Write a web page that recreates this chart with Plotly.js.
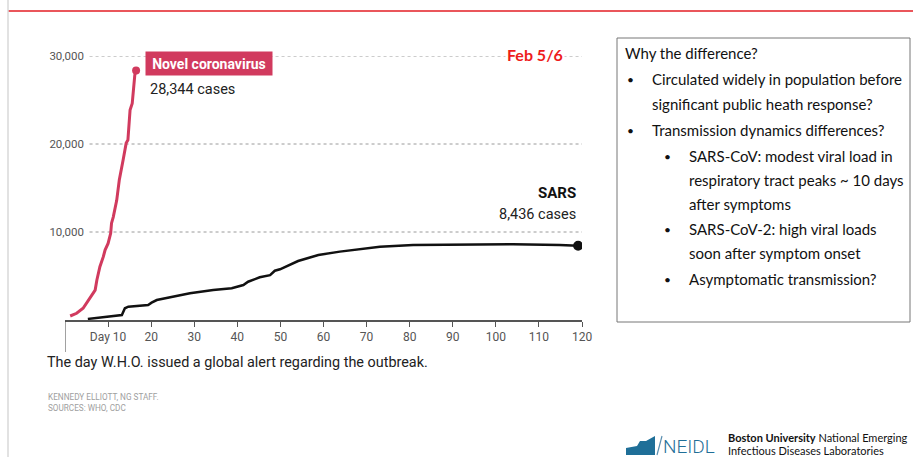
<!DOCTYPE html>
<html><head><meta charset="utf-8">
<script src="https://cdn.plot.ly/plotly-3.0.1.min.js"></script>
<style>html,body{margin:0;padding:0;background:#fff}#chart{width:913px;height:457px}</style>
</head><body><div id="chart"></div>
<script>
// ---- data ----
const novelDays  = [1.2, 2.7, 4.2, 5.4, 6.2, 7.0, 7.4, 8.1, 8.9, 9.3, 10.0, 10.6, 10.8, 11.2, 12.0, 12.6, 13.5, 14.2, 14.6, 15.1, 15.6, 16.2, 16.5];
const novelCases = [455, 760, 1330, 2270, 2840, 3400, 4550, 6060, 7200, 7950, 8700, 9850, 11000, 11700, 13600, 15900, 18200, 20100, 20450, 23860, 24600, 27840, 28344];
const sarsDays   = [5.3, 13.2, 13.9, 14.7, 19.3, 20.1, 21.3, 29, 34.4, 37.5, 38.7, 41.4, 42.5, 45.2, 47.6, 48.7, 49.9, 54.1, 57.6, 58.8, 63.8, 70.8, 73.1, 80.8, 92.4, 104, 114.8, 119.1];
const sarsCases  = [120, 570, 1330, 1510, 1700, 1970, 2270, 3030, 3400, 3600, 3600, 3980, 4350, 4850, 5100, 5600, 5760, 6700, 7270, 7390, 7770, 8140, 8330, 8520, 8600, 8600, 8520, 8436];
const xTickVals = [10, 20, 30, 40, 50, 60, 70, 80, 90, 100, 110, 120];
const xTickText = ['Day 10', '20', '30', '40', '50', '60', '70', '80', '90', '100', '110', '120'];
const yTickVals = [10000, 20000, 30000];
const yTickText = ['10,000', '20,000', '30,000'];
const novelLabel = 'Novel coronavirus';
const novelTotal = '28,344 cases';
const sarsLabel = 'SARS';
const sarsTotal = '8,436 cases';

// ---- geometry helpers (pixel -> paper) ----
const L = 65, R = 582, T = 56, B = 320;
const px = x => (x - L) / (R - L);
const py = y => (B - y) / (B - T);

const RED = '#d13a5e';
const chartFont = "'Roboto', sans-serif";
const boxFont = "'Lato', 'Open Sans', sans-serif";

const traces = [
  {x: sarsDays, y: sarsCases, mode: 'lines', line: {color: '#111', width: 2.5}, hoverinfo: 'skip'},
  {x: novelDays, y: novelCases, mode: 'lines', line: {color: RED, width: 3}, hoverinfo: 'skip'},
  {x: [sarsDays[sarsDays.length-1]], y: [sarsCases[sarsCases.length-1]], mode: 'markers',
   marker: {color: '#111', size: 10}, hoverinfo: 'skip'},
  {x: [novelDays[novelDays.length-1]], y: [novelCases[novelCases.length-1]], mode: 'markers',
   marker: {color: RED, size: 8}, hoverinfo: 'skip'}
];

const shapes = [];
// dotted gridlines
yTickVals.forEach((v, i) => {
  shapes.push({type: 'line', xref: 'x', yref: 'y', x0: 5.7, x1: i === 2 ? 122.5 : 121, y0: v, y1: v,
    line: {color: '#9a9a9a', width: 1, dash: 'dot'}, layer: 'below'});
});
// WHO alert marker
shapes.push({type: 'line', xref: 'x', yref: 'paper', x0: 0, x1: 0, y0: py(321), y1: py(352),
  line: {color: '#444', width: 1}});
// slide decorations
shapes.push({type: 'line', xref: 'paper', yref: 'paper', x0: px(8), x1: px(913), y0: py(11), y1: py(11),
  line: {color: '#e31e24', width: 1.5}});
shapes.push({type: 'line', xref: 'paper', yref: 'paper', x0: px(8), x1: px(8), y0: py(0), y1: py(457),
  line: {color: '#d8d8d8', width: 1.5}});
// text box
shapes.push({type: 'rect', xref: 'paper', yref: 'paper', x0: px(617), x1: px(910), y0: py(38), y1: py(322),
  line: {color: '#777', width: 1}, fillcolor: 'rgba(0,0,0,0)'});
// logo building
const logoPts = [[626,455],[626,448],[637,446],[640,441],[646,441],[655,436],[655,455]];
shapes.push({type: 'path', xref: 'paper', yref: 'paper',
  path: 'M ' + logoPts.map(p => px(p[0]) + ',' + py(p[1])).join(' L ') + ' Z',
  fillcolor: '#1f6f98', line: {width: 0}});
shapes.push({type: 'line', xref: 'paper', yref: 'paper', x0: px(657), x1: px(662), y0: py(455), y1: py(436),
  line: {color: '#5b8fb0', width: 1.2}});

const ann = [];
const A = (x, y, text, opts) => ann.push(Object.assign({xref: 'paper', yref: 'paper', x: px(x), y: py(y), text: text,
  showarrow: false, xanchor: 'left', yanchor: 'middle'}, opts));

// series labels
ann.push({xref: 'paper', yref: 'paper', x: px(209), y: py(64), text: '<b>' + novelLabel + '</b>', showarrow: false,
  xanchor: 'center', yanchor: 'middle', bgcolor: RED, width: 120, height: 17, borderpad: 3,
  font: {family: chartFont, size: 14, color: '#fff'}});
A(148, 89, novelTotal, {font: {family: chartFont, size: 14.5, color: '#222'}});
A(578, 193, '<b>' + sarsLabel + '</b>', {xanchor: 'right', font: {family: chartFont, size: 15, color: '#111'}});
A(578, 214, sarsTotal, {xanchor: 'right', font: {family: chartFont, size: 14.5, color: '#222'}});
// Feb 5/6
ann.push({xref: 'paper', yref: 'paper', x: px(535), y: py(54), text: '<b>Feb 5/6</b>', showarrow: false,
  xanchor: 'center', yanchor: 'middle', bgcolor: '#fff', borderpad: 1,
  font: {family: boxFont, size: 16, color: '#ee1c1c'}});
// footnotes
A(45, 362, 'The day W.H.O. issued a global alert regarding the outbreak.', {font: {family: chartFont, size: 14.4, color: '#222'}});
A(46, 397, 'KENNEDY ELLIOTT, NG STAFF.', {font: {family: chartFont, size: 8.2, color: '#a0a0a0'}});
A(46, 408, 'SOURCES: WHO, CDC', {font: {family: chartFont, size: 8.2, color: '#a0a0a0'}});
// text box lines
const bf = {family: boxFont, size: 15, color: '#111'};
const bul = {family: boxFont, size: 12, color: '#111'};
A(623, 53, 'Why the difference?', {font: bf});
A(625, 79, '•', {font: bul}); A(650, 79, 'Circulated widely in population before', {font: bf});
A(650, 104, 'significant public heath response?', {font: bf});
A(625, 130, '•', {font: bul}); A(650, 130, 'Transmission dynamics differences?', {font: bf});
A(662, 156, '•', {font: bul}); A(687, 156, 'SARS-CoV: modest viral load in', {font: bf});
A(687, 180, 'respiratory tract peaks ~ 10 days', {font: bf});
A(687, 204, 'after symptoms', {font: bf});
A(662, 229, '•', {font: bul}); A(687, 229, 'SARS-CoV-2: high viral loads', {font: bf});
A(687, 253, 'soon after symptom onset', {font: bf});
A(662, 279, '•', {font: bul}); A(687, 279, 'Asymptomatic transmission?', {font: bf});
// logo text
A(661, 446, 'NEIDL', {font: {family: "'Roboto', sans-serif", size: 19, weight: 300, color: '#1f6f98'}});
A(726, 437, '<b>Boston University</b> National Emerging', {font: {family: boxFont, size: 11, color: '#111'}});
A(726, 450, 'Infectious Diseases Laboratories', {font: {family: boxFont, size: 11, color: '#111'}});

const layout = {
  width: 913, height: 457,
  margin: {l: L, r: 913 - R, t: T, b: 457 - B, pad: 0},
  paper_bgcolor: '#fff', plot_bgcolor: '#fff',
  showlegend: false,
  xaxis: {range: [0, 120], tickvals: xTickVals, ticktext: xTickText, showgrid: false, zeroline: false,
    showline: true, linecolor: '#555', linewidth: 1.5, ticks: 'outside', ticklen: 5, tickcolor: '#555', tickwidth: 1,
    tickfont: {family: chartFont, size: 12, color: '#555'}, fixedrange: true},
  yaxis: {range: [0, 30000], tickvals: yTickVals, ticktext: yTickText, showgrid: false, zeroline: false,
    showline: false, ticks: '', ticklabelstandoff: -20,
    tickfont: {family: chartFont, size: 11.5, color: '#555'}, fixedrange: true},
  shapes: shapes,
  annotations: ann
};

Plotly.newPlot('chart', traces, layout, {displayModeBar: false, staticPlot: true});
</script>
</body></html>
